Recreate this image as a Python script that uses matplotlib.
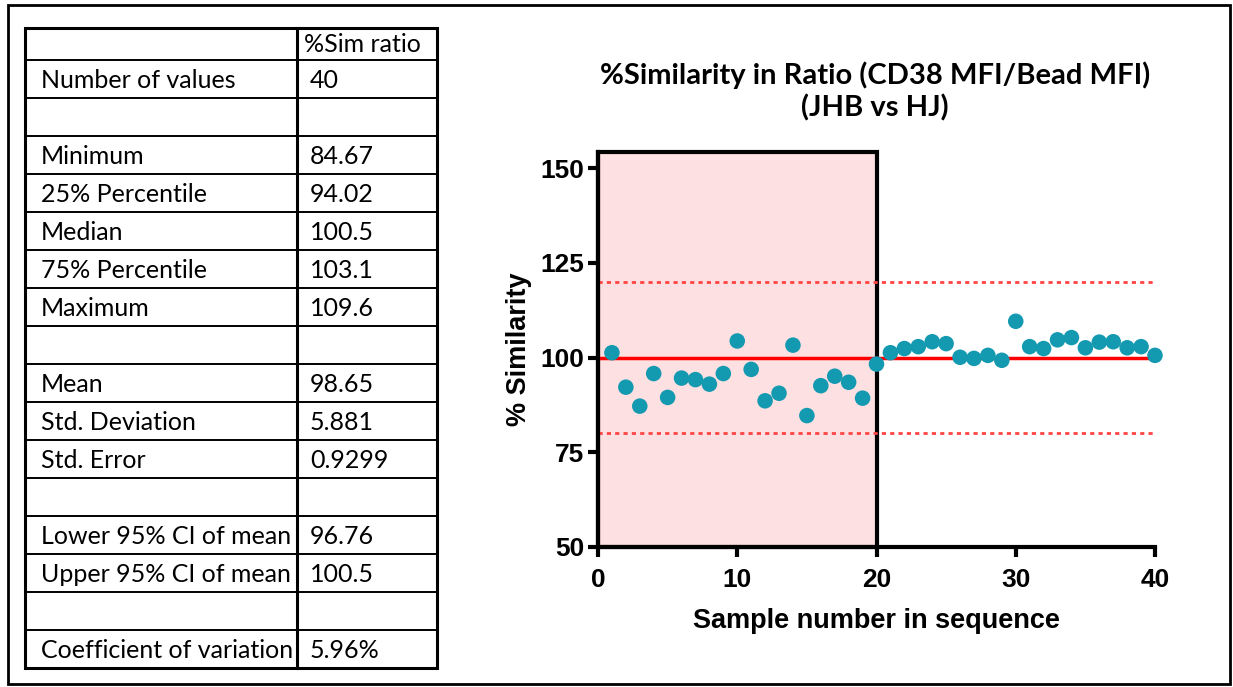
import matplotlib.pyplot as plt
from matplotlib.patches import Rectangle

# data
sample = list(range(1, 41))
similarity = [101.3, 92.2, 87.2, 95.8, 89.5, 94.6, 94.2, 93.0, 95.8, 104.4,
              96.9, 88.6, 90.6, 103.3, 84.7, 92.6, 95.1, 93.5, 89.3, 98.3,
              101.3, 102.4, 102.9, 104.2, 103.7, 100.1, 99.8, 100.6, 99.3, 109.6,
              102.9, 102.4, 104.7, 105.3, 102.6, 104.1, 104.2, 102.6, 102.9, 100.6]

stat_header = '%Sim ratio'
stat_names = ['Number of values', '', 'Minimum', '25% Percentile', 'Median',
              '75% Percentile', 'Maximum', '', 'Mean', 'Std. Deviation',
              'Std. Error', '', 'Lower 95% CI of mean', 'Upper 95% CI of mean',
              '', 'Coefficient of variation']
stat_values = ['40', '', '84.67', '94.02', '100.5', '103.1', '109.6', '',
               '98.65', '5.881', '0.9299', '', '96.76', '100.5', '', '5.96%']

plt.rcParams['font.family'] = ['Liberation Sans', 'DejaVu Sans']

W, H = 1233, 687
fig = plt.figure(figsize=(W / 100, H / 100), dpi=100)

# background axes in pixel coordinates for border + table
bg = fig.add_axes([0, 0, 1, 1])
bg.set_xlim(0, W)
bg.set_ylim(H, 0)
bg.axis('off')
bg.add_patch(Rectangle((8, 5), 1222, 679, fill=False, ec='black', lw=2))

# stats table
tx0, tx1, tcol = 25, 437, 297
ty0, hdr_h, row_h = 28, 32, 38
ty1 = ty0 + hdr_h + row_h * len(stat_names)
tfs = 18
bg.add_patch(Rectangle((tx0, ty0), tx1 - tx0, ty1 - ty0, fill=False, ec='black',
                       lw=2.2, zorder=5))
bg.add_patch(Rectangle((tcol, ty0), tx1 - tcol, ty1 - ty0, fc='white', ec='none', zorder=2))
bg.plot([tcol, tcol], [ty0, ty1], color='black', lw=2.2, zorder=5)
bg.plot([tx0, tx1], [ty0 + hdr_h] * 2, color='black', lw=1.4, zorder=5)
bg.text(tcol + 7, ty0 + hdr_h / 2 + 1, stat_header, fontsize=tfs, family='Lato',
        va='center', ha='left', zorder=3)
for i, (name, val) in enumerate(zip(stat_names, stat_values)):
    y = ty0 + hdr_h + row_h * i
    if i > 0:
        bg.plot([tx0, tx1], [y, y], color='black', lw=1.4, zorder=5)
    bg.text(41, y + row_h / 2 + 1, name, fontsize=tfs, family='Lato',
            va='center', ha='left', zorder=1)
    bg.text(tcol + 13, y + row_h / 2 + 1, val, fontsize=tfs, family='Lato',
            va='center', ha='left', zorder=3)

# scatter chart
ax = fig.add_axes([598 / W, 1 - 547 / H, (1155 - 598) / W, (547 - 152) / H])
ax.set_xlim(0, 40)
ax.set_ylim(50, 154.3)
ax.add_patch(Rectangle((0, 50), 20, 104.3, facecolor='#fde0e1', edgecolor='black',
                       lw=3, zorder=1, clip_on=False))
ax.plot([0, 40], [100, 100], color='#ff0000', lw=2.5, zorder=2)
ax.plot([0, 40], [120, 120], color='#ff4444', lw=2, ls=(0, (1.5, 1.5)), zorder=2)
ax.plot([0, 40], [80, 80], color='#ff4444', lw=2, ls=(0, (1.5, 1.5)), zorder=2)
ax.scatter(sample, similarity, s=125, color='#1399b0', zorder=3, clip_on=False,
           edgecolors='none')

for s in ['top', 'right']:
    ax.spines[s].set_visible(False)
for s in ['left', 'bottom']:
    ax.spines[s].set_linewidth(3)
ax.set_xticks([0, 10, 20, 30, 40])
ax.set_yticks([50, 75, 100, 125, 150])
ax.tick_params(width=3, length=7, labelsize=19, pad=3)
ax.tick_params(axis='x', pad=8)
for lab in ax.get_xticklabels() + ax.get_yticklabels():
    lab.set_fontweight('bold')
ax.set_xlabel('Sample number in sequence', fontsize=19.5, fontweight='bold', labelpad=12)
ax.set_ylabel('% Similarity', fontsize=19.5, fontweight='bold', labelpad=6)

fig.text(875 / W, 1 - 75 / H, '%Similarity in Ratio (CD38 MFI/Bead MFI)',
         ha='center', va='center', fontsize=21, fontweight='bold', family='Lato')
fig.text(875 / W, 1 - 108 / H, '(JHB vs HJ)',
         ha='center', va='center', fontsize=21, fontweight='bold', family='Lato')

fig.savefig('out.png', dpi=100)
